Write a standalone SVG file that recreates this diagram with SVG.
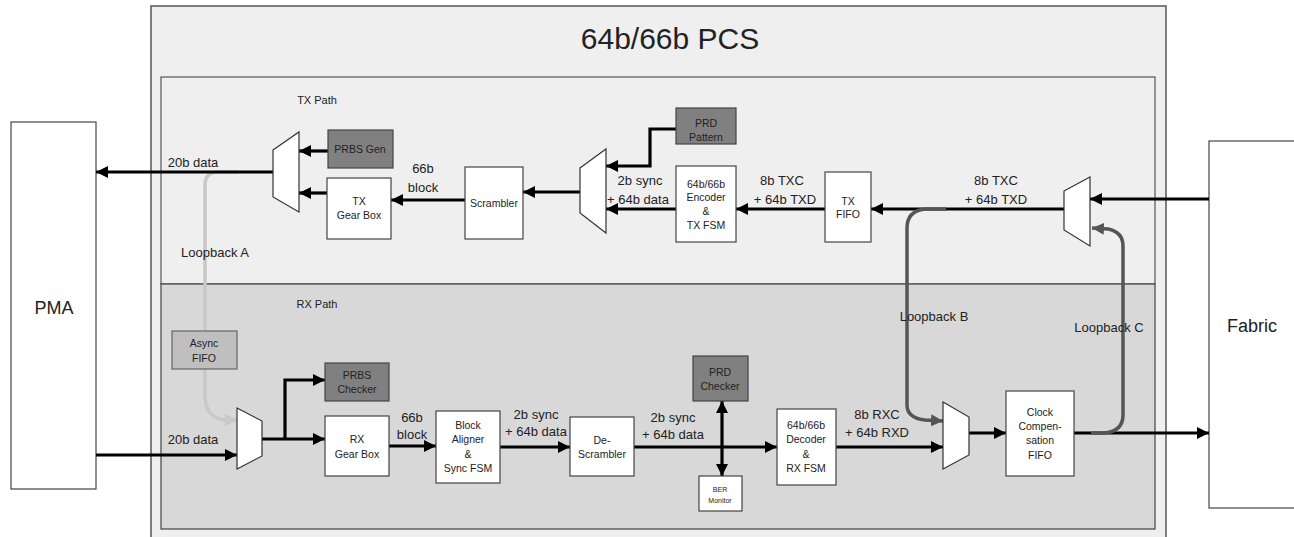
<svg xmlns="http://www.w3.org/2000/svg" width="1294" height="537" viewBox="0 0 1294 537">
<defs>
<style>
text{font-family:"Liberation Sans",Arial,sans-serif;fill:#222;text-anchor:middle}
.box{fill:#fff;stroke:#444;stroke-width:1.2}
.dark{fill:#808080;stroke:#444;stroke-width:1.2}
.mid{fill:#bfbfbf;stroke:#666;stroke-width:1.2}
.mux{fill:#fff;stroke:#333;stroke-width:1.2}
.t10{font-size:10.5px}
.t13{font-size:13px}
.w{stroke:#000;stroke-width:3.2;fill:none}
.lbA{stroke:#c8c8c8;stroke-width:3.5;fill:none}
.lbB{stroke:#555;stroke-width:3.5;fill:none}
</style>
<marker id="ah" markerUnits="userSpaceOnUse" markerWidth="12" markerHeight="12" refX="12" refY="6" orient="auto"><path d="M0,0 L12,6 L0,12 z" fill="#000"/></marker>
<marker id="ahA" markerUnits="userSpaceOnUse" markerWidth="12" markerHeight="12" refX="12" refY="6" orient="auto"><path d="M0,0 L12,6 L0,12 z" fill="#c8c8c8"/></marker>
<marker id="ahB" markerUnits="userSpaceOnUse" markerWidth="12" markerHeight="12" refX="12" refY="6" orient="auto"><path d="M0,0 L12,6 L0,12 z" fill="#555"/></marker>
</defs>
<rect width="1294" height="537" fill="#fff"/>
<g id="pcs">
<rect x="151" y="6" width="1015" height="545" fill="#efefef" stroke="#555" stroke-width="1.5"/>
<text x="670" y="49" style="font-size:30px">64b/66b PCS</text>
</g>
<g id="txpath">
<rect x="161" y="77" width="994" height="207" fill="#efefef" stroke="#555" stroke-width="1.2"/>
<text x="317" y="104" style="font-size:11px">TX Path</text>
</g>
<g id="rxpath">
<rect x="161" y="284" width="994" height="245" fill="#d8d8d8" stroke="#444" stroke-width="1.2"/>
<text x="317" y="308" style="font-size:11px">RX Path</text>
</g>
<g id="pma"><rect x="11" y="122" width="85" height="367" class="box"/><text x="54" y="314" style="font-size:18px">PMA</text></g>
<g id="fabric"><rect x="1209" y="141" width="90" height="367" class="box"/><text x="1252" y="332" style="font-size:18px">Fabric</text></g>

<g id="connectors">
<!-- Loopback A -->
<path class="lbA" d="M238,172 L218,172 Q205,172 205,185 L205,395 Q205,418 225,420 L237,420" marker-end="url(#ahA)"/>
<!-- TX -->
<line class="w" x1="328" y1="151" x2="299" y2="151" marker-end="url(#ah)"/>
<line class="w" x1="327" y1="193" x2="299" y2="193" marker-end="url(#ah)"/>
<line class="w" x1="273" y1="172" x2="96" y2="172" marker-end="url(#ah)"/>
<line class="w" x1="465" y1="200" x2="391" y2="200" marker-end="url(#ah)"/>
<line class="w" x1="580" y1="192" x2="523" y2="192" marker-end="url(#ah)"/>
<polyline class="w" points="676,129 650,129 650,166 606,166" marker-end="url(#ah)"/>
<line class="w" x1="676" y1="209" x2="606" y2="209" marker-end="url(#ah)"/>
<line class="w" x1="825" y1="209" x2="736" y2="209" marker-end="url(#ah)"/>
<line class="w" x1="1064" y1="209" x2="871" y2="209" marker-end="url(#ah)"/>
<line class="w" x1="1209" y1="199" x2="1090" y2="199" marker-end="url(#ah)"/>
<!-- RX -->
<line class="w" x1="96" y1="455" x2="237" y2="455" marker-end="url(#ah)"/>
<line class="w" x1="262" y1="439" x2="325" y2="439" marker-end="url(#ah)"/>
<polyline class="w" points="285,439 285,380 325,380" marker-end="url(#ah)"/>
<line class="w" x1="389" y1="446" x2="436" y2="446" marker-end="url(#ah)"/>
<line class="w" x1="500" y1="447" x2="570" y2="447" marker-end="url(#ah)"/>
<line class="w" x1="634" y1="447" x2="777" y2="447" marker-end="url(#ah)"/>
<line class="w" x1="722" y1="440" x2="722" y2="401" marker-end="url(#ah)"/>
<line class="w" x1="722" y1="440" x2="722" y2="476" marker-end="url(#ah)"/>
<line class="w" x1="836" y1="447" x2="943" y2="447" marker-end="url(#ah)"/>
<line class="w" x1="969" y1="433" x2="1006" y2="433" marker-end="url(#ah)"/>
<line class="w" x1="1074" y1="433" x2="1209" y2="433" marker-end="url(#ah)"/>
<!-- Loopback B -->
<path class="lbB" d="M946,209 L925,209 Q907,211 907,228 L907,405 Q907,418 925,420 L943,421" marker-end="url(#ahB)"/>
<!-- Loopback C -->
<path class="lbB" d="M1091,433 L1105,433 Q1123,431 1123,415 L1123,246 Q1123,232 1108,229 L1092,228" marker-end="url(#ahB)"/>
</g>

<g id="labels">
<text class="t13" x="193" y="167">20b data</text>
<text class="t13" x="423" y="173">66b</text>
<text class="t13" x="423" y="192">block</text>
<text class="t13" x="640" y="185">2b sync</text>
<text class="t13" x="638" y="204">+ 64b data</text>
<text class="t13" x="782" y="185">8b TXC</text>
<text class="t13" x="785" y="204">+ 64b TXD</text>
<text class="t13" x="996" y="185">8b TXC</text>
<text class="t13" x="996" y="204">+ 64b TXD</text>
<text class="t13" x="215" y="257">Loopback A</text>
<text class="t13" x="193" y="444">20b data</text>
<text class="t13" x="412" y="422">66b</text>
<text class="t13" x="412" y="439">block</text>
<text class="t13" x="536" y="419">2b sync</text>
<text class="t13" x="536" y="436">+ 64b data</text>
<text class="t13" x="673" y="422">2b sync</text>
<text class="t13" x="673" y="439">+ 64b data</text>
<text class="t13" x="877" y="419">8b RXC</text>
<text class="t13" x="877" y="437">+ 64b RXD</text>
<text class="t13" x="934" y="321">Loopback B</text>
<text class="t13" x="1109" y="332">Loopback C</text>
</g>

<g id="prbs_gen"><rect x="328" y="130" width="65" height="38" class="dark"/><text class="t10" x="360" y="153">PRBS Gen</text></g>
<g id="tx_gearbox"><rect x="327" y="178" width="64" height="61" class="box"/><text class="t10" x="359" y="205">TX</text><text class="t10" x="359" y="219">Gear Box</text></g>
<g id="tx_mux"><polygon class="mux" points="273,150 299,132 299,212 273,197"/></g>
<g id="scrambler"><rect x="465" y="167" width="58" height="72" class="box"/><text class="t10" x="494" y="207">Scrambler</text></g>
<g id="tx_mux2"><polygon class="mux" points="580,168 606,149 606,233 580,213"/></g>
<g id="prd_pattern"><rect x="676" y="108" width="60" height="36" class="dark"/><text class="t10" x="706" y="127">PRD</text><text class="t10" x="706" y="141">Pattern</text></g>
<g id="encoder"><rect x="676" y="166" width="60" height="76" class="box"/><text class="t10" x="706" y="188">64b/66b</text><text class="t10" x="706" y="201">Encoder</text><text class="t10" x="706" y="215">&amp;</text><text class="t10" x="706" y="229">TX FSM</text></g>
<g id="tx_fifo"><rect x="825" y="172" width="46" height="70" class="box"/><text class="t10" x="848" y="205">TX</text><text class="t10" x="848" y="218">FIFO</text></g>
<g id="tx_mux3"><polygon class="mux" points="1064,191 1090,177 1090,246 1064,230"/></g>

<g id="async_fifo"><rect x="172" y="331" width="65" height="38" class="mid"/><text class="t10" x="204" y="347">Async</text><text class="t10" x="204" y="362">FIFO</text></g>
<g id="rx_mux"><polygon class="mux" points="237,408 262,421 262,456 237,469"/></g>
<g id="prbs_checker"><rect x="325" y="363" width="64" height="38" class="dark"/><text class="t10" x="357" y="379">PRBS</text><text class="t10" x="357" y="393">Checker</text></g>
<g id="rx_gearbox"><rect x="325" y="416" width="64" height="60" class="box"/><text class="t10" x="357" y="443">RX</text><text class="t10" x="357" y="458">Gear Box</text></g>
<g id="block_aligner"><rect x="436" y="411" width="64" height="72" class="box"/><text class="t10" x="468" y="429">Block</text><text class="t10" x="468" y="443">Aligner</text><text class="t10" x="468" y="458">&amp;</text><text class="t10" x="468" y="472">Sync FSM</text></g>
<g id="descrambler"><rect x="570" y="417" width="64" height="59" class="box"/><text class="t10" x="602" y="444">De-</text><text class="t10" x="602" y="458">Scrambler</text></g>
<g id="prd_checker"><rect x="693" y="356" width="55" height="45" class="dark"/><text class="t10" x="720" y="376">PRD</text><text class="t10" x="720" y="390">Checker</text></g>
<g id="ber_monitor"><rect x="699" y="476" width="43" height="35" class="box"/><text x="720" y="492" style="font-size:7px">BER</text><text x="720" y="503" style="font-size:7px">Monitor</text></g>
<g id="decoder"><rect x="777" y="409" width="59" height="76" class="box"/><text class="t10" x="806" y="429">64b/66b</text><text class="t10" x="806" y="443">Decoder</text><text class="t10" x="806" y="458">&amp;</text><text class="t10" x="806" y="472">RX FSM</text></g>
<g id="rx_mux2"><polygon class="mux" points="943,402 969,417 969,455 943,469"/></g>
<g id="clock_comp"><rect x="1006" y="391" width="68" height="85" class="box"/><text class="t10" x="1040" y="416">Clock</text><text class="t10" x="1040" y="430">Compen-</text><text class="t10" x="1040" y="444">sation</text><text class="t10" x="1040" y="459">FIFO</text></g>
</svg>
